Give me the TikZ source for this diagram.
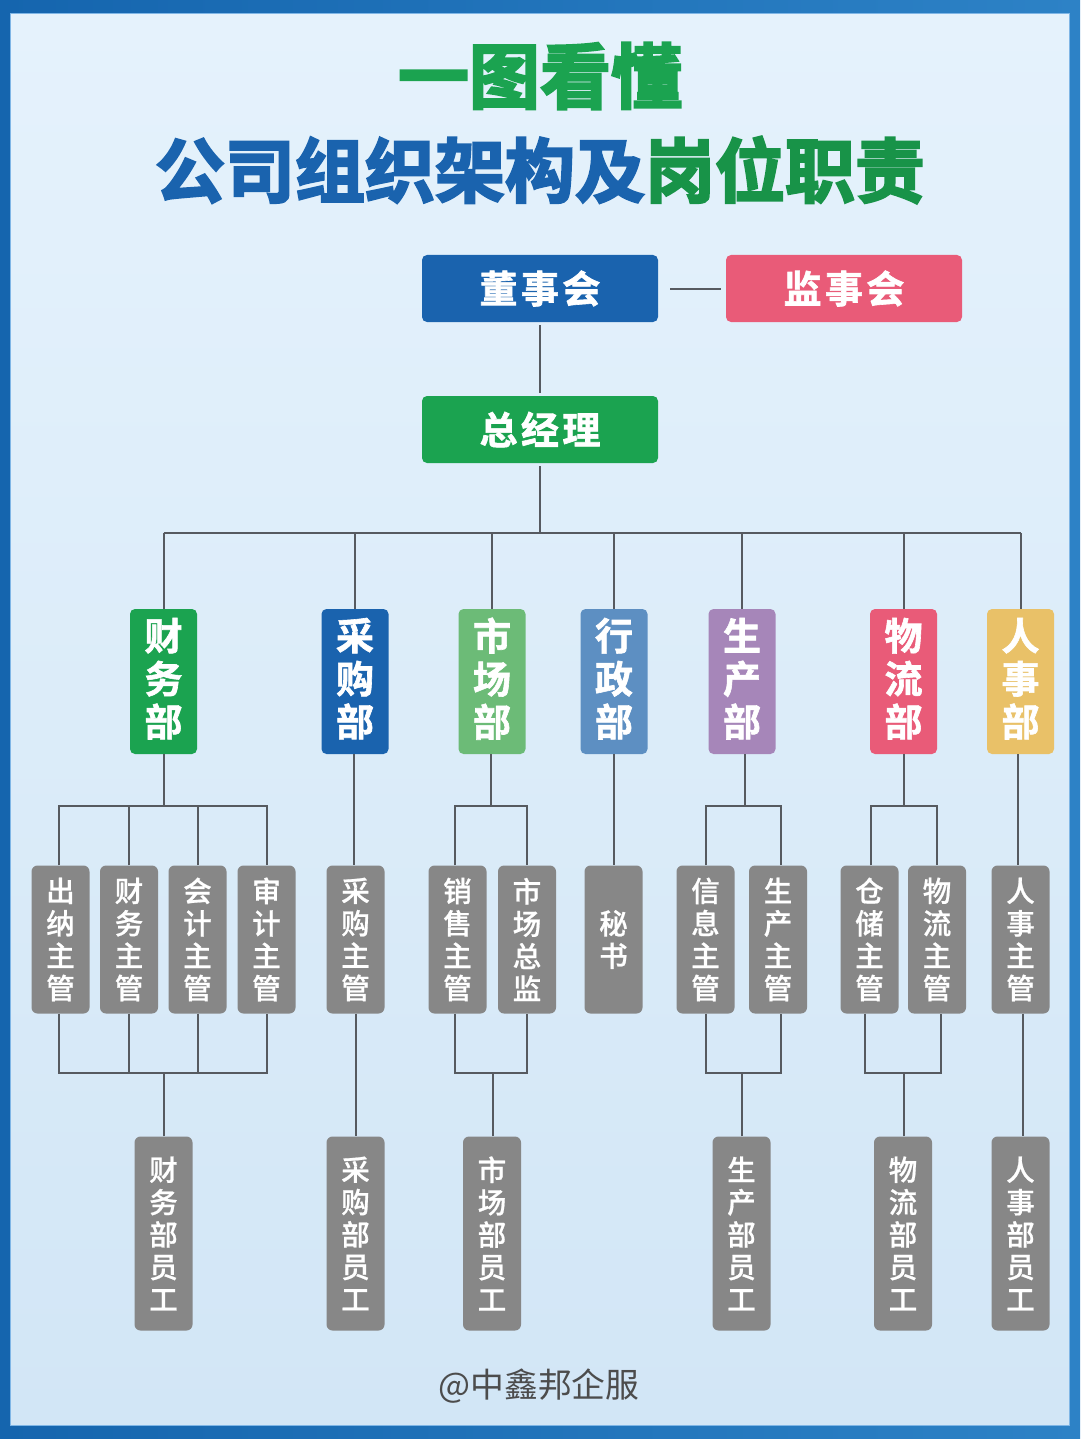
\documentclass[tikz,border=0pt]{standalone}
\usepackage{fontspec}
\setmainfont{Noto Sans CJK SC}
\newfontfamily\titlefont[FakeBold=3.2]{Noto Sans CJK SC Bold}
\newfontfamily\headfont[LetterSpace=9,FakeBold=1.6]{Noto Sans CJK SC Bold}
\newfontfamily\deptfont[FakeBold=1.6]{Noto Sans CJK SC Bold}
\newfontfamily\subfont[FakeBold=0.7]{Noto Sans CJK SC Medium}
\definecolor{navy}{HTML}{1A63AE}
\definecolor{leaf}{HTML}{1BA350}
\definecolor{rose}{HTML}{E95B78}
\definecolor{mint}{HTML}{6CBB77}
\definecolor{steel}{HTML}{5D8FC2}
\definecolor{lilac}{HTML}{A686B9}
\definecolor{sand}{HTML}{E9C168}
\definecolor{slab}{HTML}{878787}
\definecolor{wire}{HTML}{565A60}
\definecolor{frameL}{HTML}{1565AE}
\definecolor{frameR}{HTML}{2D82C6}
\definecolor{panelT}{HTML}{E5F2FC}
\definecolor{panelB}{HTML}{D2E6F6}
\definecolor{rim}{HTML}{7FB6E6}
\tikzset{
  head/.style={rounded corners=5pt,minimum width=236pt,minimum height=67pt,outer sep=3pt,
    text=white,font=\headfont\fontsize{38}{38}\selectfont},
  dept/.style={rounded corners=5pt,minimum width=67pt,minimum height=145pt,inner sep=0pt,
    align=center,text=white,font=\deptfont\fontsize{38}{43}\selectfont,
    execute at end node={\rule[-9pt]{0pt}{9pt}}},
  post/.style={rounded corners=6pt,fill=slab,minimum width=58pt,minimum height=148pt,inner sep=0pt,
    align=center,text=white,font=\subfont\fontsize{28.5}{32.4}\selectfont},
  staff/.style={post,minimum height=194pt},
  wired/.style={color=wire,line width=2pt}
}
\begin{document}
\begin{tikzpicture}[x=1pt,y=-1pt]
  \useasboundingbox (0,0) rectangle (1080,1439);
  % frame and panel
  \fill[left color=frameL,right color=frameR] (0,0) rectangle (1080,1439);
  \draw[rim,line width=1pt,top color=panelT,bottom color=panelB] (10.5,13.5) rectangle (1069.5,1425.5);

  % title
  \node[font=\titlefont\fontsize{71}{71}\selectfont,text=leaf] (title) at (540,76) {一图看懂};
  \node[font=\titlefont\fontsize{70}{70}\selectfont,text=navy] (subtitle) at (540,170)
    {公司组织架构及\textcolor{leaf!90!black}{岗位职责}};

  % top of the chart
  \node[head,fill=navy] (board) at (540,288.5) {董事会};
  \node[head,fill=rose] (super) at (844,288.5) {监事会};
  \node[head,fill=leaf] (gm) at (540,429.5) {总经理};

  % departments
  \node[dept,fill=leaf] (fin) at (163.5,681.5) {财\\务\\部};
  \node[dept,fill=navy] (buy) at (355,681.5) {采\\购\\部};
  \node[dept,fill=mint] (mkt) at (492,681.5) {市\\场\\部};
  \node[dept,fill=steel] (adm) at (614,681.5) {行\\政\\部};
  \node[dept,fill=lilac] (prod) at (742,681.5) {生\\产\\部};
  \node[dept,fill=rose] (log) at (903.5,681.5) {物\\流\\部};
  \node[dept,fill=sand] (hr) at (1020.5,681.5) {人\\事\\部};

  % posts
  \node[post] (cash) at (60.5,939.5) {出\\纳\\主\\管};
  \node[post] (fina) at (129,939.5) {财\\务\\主\\管};
  \node[post] (acct) at (197.5,939.5) {会\\计\\主\\管};
  \node[post] (audit) at (266.5,939.5) {审\\计\\主\\管};
  \node[post] (buya) at (355.5,939.5) {采\\购\\主\\管};
  \node[post] (sale) at (457.5,939.5) {销\\售\\主\\管};
  \node[post] (mdir) at (527,939.5) {市\\场\\总\\监};
  \node[post] (sec) at (613.5,939.5) {秘\\书};
  \node[post] (info) at (705.5,939.5) {信\\息\\主\\管};
  \node[post] (proda) at (778,939.5) {生\\产\\主\\管};
  \node[post] (store) at (869.5,939.5) {仓\\储\\主\\管};
  \node[post] (loga) at (937,939.5) {物\\流\\主\\管};
  \node[post] (hra) at (1020.5,939.5) {人\\事\\主\\管};

  % staff
  \node[staff] (sfin) at (163.5,1233.5) {财\\务\\部\\员\\工};
  \node[staff] (sbuy) at (355.5,1233.5) {采\\购\\部\\员\\工};
  \node[staff] (smkt) at (492,1233.5) {市\\场\\部\\员\\工};
  \node[staff] (sprod) at (741.5,1233.5) {生\\产\\部\\员\\工};
  \node[staff] (slog) at (903,1233.5) {物\\流\\部\\员\\工};
  \node[staff] (shr) at (1020.5,1233.5) {人\\事\\部\\员\\工};

  \node[font=\fontsize{33.8}{33.8}\selectfont,text=black!70] (mark) at (539,1386) {@中鑫邦企服};

  % bus heights
  \coordinate (bus) at (540,533);
  \coordinate (up) at (0,806);
  \coordinate (low) at (0,1073);

  % upper connectors
  \draw[wired] ([xshift=9pt]board.east) -- ([xshift=-2pt]super.west);
  \draw[wired] (board) -- (gm);
  \draw[wired] (gm.south) -- (bus);
  \draw[wired] (bus -| fin) -- (bus -| hr);
  \draw[wired] (bus -| fin) -- (fin.north);
  \draw[wired] (bus -| buy) -- (buy.north);
  \draw[wired] (bus -| mkt) -- (mkt.north);
  \draw[wired] (bus -| adm) -- (adm.north);
  \draw[wired] (bus -| prod) -- (prod.north);
  \draw[wired] (bus -| log) -- (log.north);
  \draw[wired] (bus -| hr) -- (hr.north);

  % finance
  \draw[wired] (fin.south) -- (fin.south |- up);
  \draw[wired] ([xshift=-2pt]cash.north) -- ([xshift=-2pt]cash.north |- up) -- (audit.north |- up) -- (audit.north);
  \draw[wired] (fina.north) -- (fina.north |- up);
  \draw[wired] (acct.north) -- (acct.north |- up);
  \draw[wired] ([xshift=-2pt]cash.south) -- ([xshift=-2pt]cash.south |- low) -- (audit.south |- low) -- (audit.south);
  \draw[wired] (fina.south) -- (fina.south |- low);
  \draw[wired] (acct.south) -- (acct.south |- low);
  \draw[wired] (sfin.north) -- (sfin.north |- low);

  % purchasing
  \draw[wired] ([xshift=-1pt]buy.south) -- ([xshift=-1.5pt]buya.north);
  \draw[wired] (buya.south) -- (sbuy.north);

  % market
  \draw[wired] ([xshift=-1pt]mkt.south) -- ([xshift=-1pt]mkt.south |- up);
  \draw[wired] ([xshift=-2.5pt]sale.north) -- ([xshift=-2.5pt]sale.north |- up) -- (mdir.north |- up) -- (mdir.north);
  \draw[wired] ([xshift=-2.5pt]sale.south) -- ([xshift=-2.5pt]sale.south |- low) -- (mdir.south |- low) -- (mdir.south);
  \draw[wired] ([xshift=1pt]smkt.north) -- ([xshift=1pt]smkt.north |- low);

  % admin
  \draw[wired] (adm.south) -- (adm.south |- sec.north);

  % production
  \draw[wired] ([xshift=3pt]prod.south) -- ([xshift=3pt]prod.south |- up);
  \draw[wired] (info.north) -- (info.north |- up) -- ([xshift=3pt]proda.north |- up) -- ([xshift=3pt]proda.north);
  \draw[wired] (info.south) -- (info.south |- low) -- ([xshift=3pt]proda.south |- low) -- ([xshift=3pt]proda.south);
  \draw[wired] (sprod.north) -- (sprod.north |- low);

  % logistics
  \draw[wired] (log.south) -- (log.south |- up);
  \draw[wired] ([xshift=1.5pt]store.north) -- ([xshift=1.5pt]store.north |- up) -- (loga.north |- up) -- (loga.north);
  \draw[wired] ([xshift=-5pt]store.south) -- ([xshift=-5pt]store.south |- low) -- ([xshift=4pt]loga.south |- low) -- ([xshift=4pt]loga.south);
  \draw[wired] ([xshift=1pt]slog.north) -- ([xshift=1pt]slog.north |- low);

  % personnel
  \draw[wired] ([xshift=-2.5pt]hr.south) -- ([xshift=-2.5pt]hra.north);
  \draw[wired] ([xshift=2.5pt]hra.south) -- ([xshift=2.5pt]shr.north);
\end{tikzpicture}
\end{document}
